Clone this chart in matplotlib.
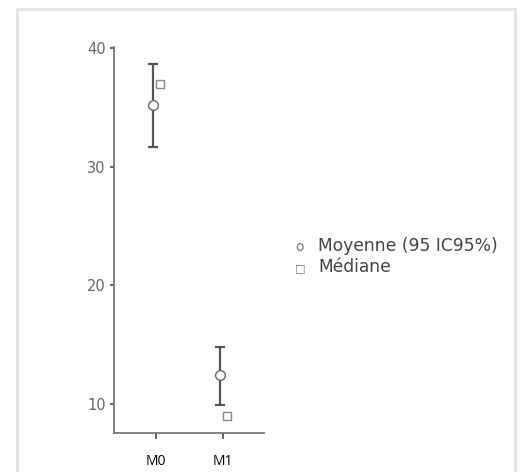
import numpy as np
import matplotlib.pyplot as plt
from matplotlib.patches import Rectangle

groups = ["M0", "M1"]
moyenne = [35.2, 12.4]
ic_bas = [31.7, 9.9]
ic_haut = [38.7, 14.8]
mediane = [37.0, 9.0]

W, H = 521, 472
fig = plt.figure(figsize=(W / 100, H / 100), dpi=100)

# cadre gris clair autour de la figure
fig.patches.append(Rectangle((17 / W, -0.05), (515 - 17) / W, 1.05 - 9 / H,
                             transform=fig.transFigure, fill=False,
                             edgecolor="#e3e3e3", lw=2))

ax = fig.add_axes([114 / W, (H - 433) / H, (264 - 114) / W, (433 - 47) / H])

x = np.arange(len(groups))
moy = np.array(moyenne)
err = np.vstack([moy - np.array(ic_bas), np.array(ic_haut) - moy])

ax.errorbar(x - 0.05, moy, yerr=err, fmt="none", ecolor="#555555",
            elinewidth=1.6, capsize=3.5, capthick=1.6, zorder=2)
ax.plot(x - 0.05, moy, "o", ms=7, mfc="white", mec="#666666", mew=1.0,
        ls="none", zorder=3)
ax.plot(x + 0.06, mediane, "s", ms=6, mfc="white", mec="#888888", mew=1.0,
        ls="none", zorder=3)

ax.set_xlim(-0.63, 1.61)
ax.set_ylim(7.55, 40.1)
ax.set_yticks([10, 20, 30, 40])
ax.set_xticks(x)
ax.set_xticklabels(groups, fontsize=10, family="Open Sans", color="black")

for s in ["top", "right"]:
    ax.spines[s].set_visible(False)
for s in ["left", "bottom"]:
    ax.spines[s].set_color("#777777")
    ax.spines[s].set_linewidth(1.3)

ax.tick_params(axis="y", length=3, width=1.3, color="#555555", pad=3,
               labelsize=10.5, labelcolor="#666666")
ax.tick_params(axis="x", length=4, width=1.3, color="#555555", pad=11)

# légende à droite
fig.text(300 / W, 1 - 247 / H, "o", fontsize=10, color="#777777",
         ha="center", va="center")
fig.text(300 / W, 1 - 268 / H, "\u25a1", fontsize=8, color="#777777",
         ha="center", va="center")
fig.text(318 / W, 1 - 246 / H, "Moyenne (95 IC95%)", fontsize=12.3,
         color="#444444", va="center")
fig.text(318 / W, 1 - 267 / H, "Médiane", fontsize=12.3,
         color="#444444", va="center")

fig.savefig("out.png", dpi=100)
